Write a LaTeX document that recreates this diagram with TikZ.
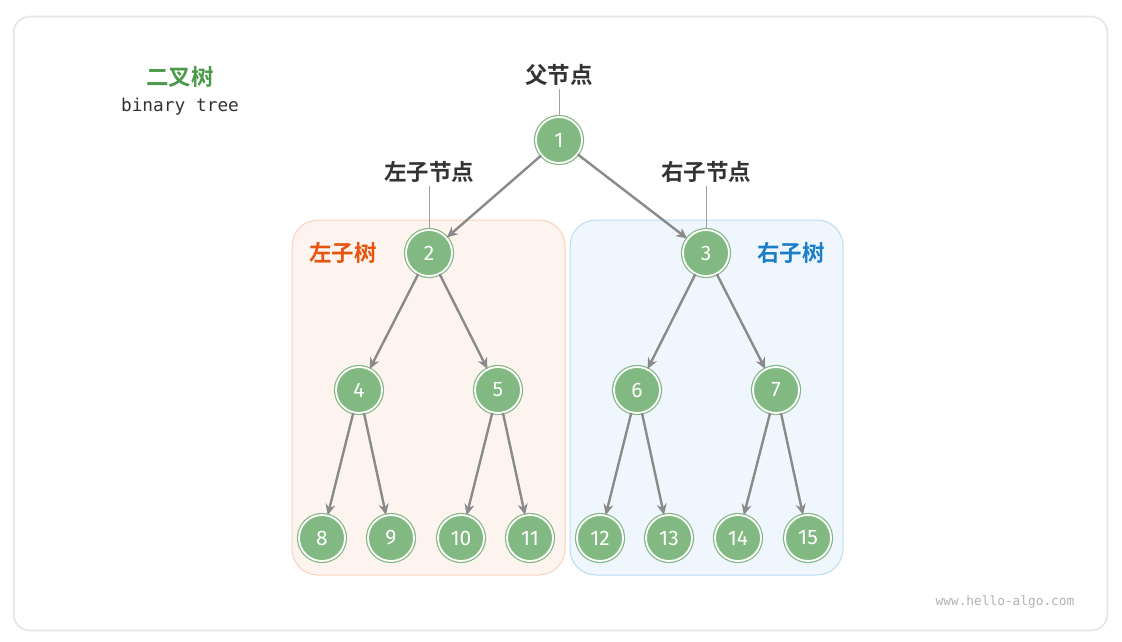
\documentclass[tikz,border=0pt]{standalone}
\usepackage{fontspec}
\setsansfont{Fira Sans}
\setmonofont{DejaVu Sans Mono}
\newfontfamily\cjk{Noto Sans CJK SC}[BoldFont={Noto Sans CJK SC Bold}]
\usetikzlibrary{arrows.meta}
\definecolor{nodegreen}{HTML}{82B882}
\definecolor{edgegray}{HTML}{8A8A8A}
\definecolor{leftfill}{HTML}{FDF4F0}
\definecolor{leftline}{HTML}{F9D2C0}
\definecolor{rightfill}{HTML}{EFF6FD}
\definecolor{rightline}{HTML}{BCDCF2}
\definecolor{leftred}{HTML}{E8530E}
\definecolor{rightblue}{HTML}{1A7FC8}
\definecolor{titlegreen}{HTML}{4A9A4A}
\definecolor{textdark}{HTML}{333333}
\tikzset{
  treenode/.style={circle, minimum size=46pt, inner sep=0pt, fill=nodegreen, draw=nodegreen,
    double=white, double distance=1.8pt, line width=1.2pt, text=white, font=\sffamily\fontsize{21}{21}\selectfont},
  treeedge/.style={draw=edgegray, line width=2.4pt, -{Stealth[length=11pt,width=10pt]}},
  tag/.style={font=\cjk\bfseries\fontsize{22.5}{22.5}\selectfont, text=textdark, inner sep=1pt},
  tagline/.style={draw=edgegray!80, line width=0.9pt}
}

\begin{document}
\begin{tikzpicture}[x=1pt, y=-1pt]
  \useasboundingbox (0,0) rectangle (1122,642);
  % frame
  \draw[rounded corners=16pt, draw=black!6, line width=3pt] (14,17) rectangle (1107,630);
  \draw[rounded corners=15pt, fill=white, draw=black!12, line width=1pt] (14,17) rectangle (1107,630);
  % subtree boxes
  \draw[rounded corners=26pt, fill=leftfill, draw=leftline, line width=1pt] (292,220) rectangle (565,575);
  \draw[rounded corners=26pt, fill=rightfill, draw=rightline, line width=1pt] (570,220) rectangle (843,575);
  \node[font=\cjk\bfseries\fontsize{22.5}{22.5}\selectfont, text=leftred] (lefttitle) at (343,253) {左子树};
  \node[font=\cjk\bfseries\fontsize{22.5}{22.5}\selectfont, text=rightblue] (righttitle) at (791,253) {右子树};
  % title
  \node[font=\cjk\bfseries\fontsize{22.5}{22.5}\selectfont, text=titlegreen] (title) at (180,77) {二叉树};
  \node[font=\ttfamily\fontsize{17.8}{17.8}\selectfont, text=textdark] (subtitle) at (180,107) {binary tree};
  % nodes
  \node[treenode] (n1) at (559,140) {1};
  \node[treenode] (n2) at (429,253) {2};
  \node[treenode] (n3) at (706,253) {3};
  \foreach \i/\x in {4/359, 5/498, 6/637, 7/776}{
    \node[treenode] (n\i) at (\x,390) {\i};}
  \foreach \i/\x in {8/322, 9/391, 10/461, 11/530, 12/600, 13/669, 14/738, 15/808}{
    \node[treenode] (n\i) at (\x,538) {\i};}
  % edges
  \foreach \p/\c in {1/2, 1/3, 2/4, 2/5, 3/6, 3/7, 4/8, 4/9, 5/10, 5/11, 6/12, 6/13, 7/14, 7/15}{
    \draw[treeedge] (n\p) -- (n\c);}
  % labels
  \node[tag] (parent) at (559,75) {父节点};
  \node[tag] (leftchild) at (429,172) {左子节点};
  \node[tag] (rightchild) at (706,172) {右子节点};
  \draw[tagline] (parent.south) ++(0,2) -- (n1.north);
  \draw[tagline] (leftchild.south) ++(0,2) -- (n2.north);
  \draw[tagline] (rightchild.south) ++(0,2) -- (n3.north);
  % watermark
  \node[font=\ttfamily\fontsize{12.8}{12.8}\selectfont, text=black!30] (url) at (1005,602) {www.hello-algo.com};
\end{tikzpicture}
\end{document}
